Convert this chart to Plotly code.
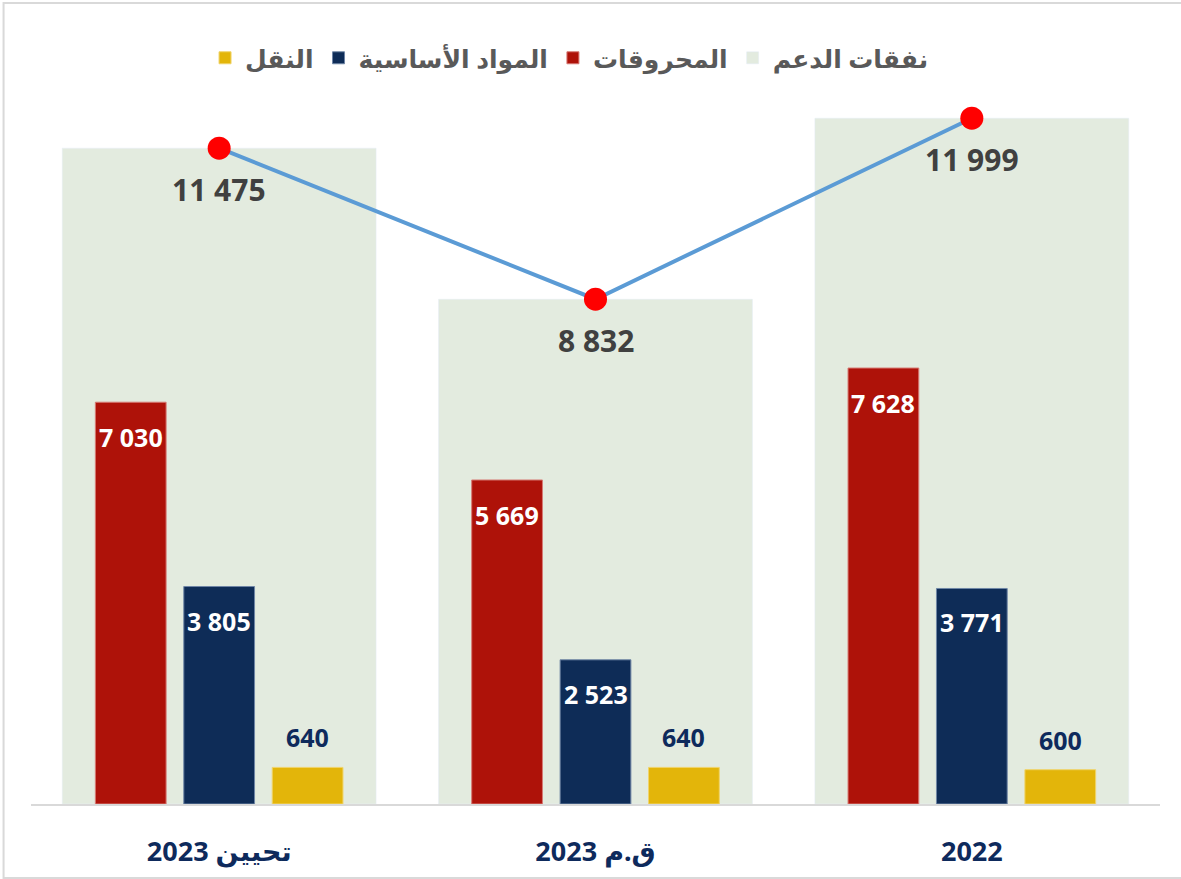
import plotly.graph_objects as go

categories = ["تحيين 2023", "ق.م 2023", "2022"]
total = [11475, 8832, 11999]
fuel = [7030, 5669, 7628]
basic = [3805, 2523, 3771]
transport = [640, 640, 600]

names = ["نفقات الدعم", "المحروقات", "المواد الأساسية", "النقل"]

C_BG = "#e3ebdf"
C_RED = "#ae1209"
C_NAVY = "#0e2c57"
C_YEL = "#e3b50a"
C_LINE = "#5b9bd5"
C_TXT = "#404040"
C_TICK = "#0e2a5c"
FONT = "Noto Sans, DejaVu Sans, sans-serif"

def fmt(v):
    return f"{v:,}".replace(",", " ")

BW = 0.188
STEP = 0.235
BGW = 0.834

fig = go.Figure()
fig.add_trace(go.Bar(x=categories, y=total, name=names[0], marker_color=C_BG,
                     width=BGW, offset=-BGW / 2, hoverinfo="skip"))
fig.add_trace(go.Bar(x=categories, y=fuel, name=names[1], marker_color=C_RED,
                     marker_line=dict(color="#d77a74", width=1),
                     width=BW, offset=-STEP - BW / 2))
fig.add_trace(go.Bar(x=categories, y=basic, name=names[2], marker_color=C_NAVY,
                     marker_line=dict(color="#6f86a6", width=1),
                     width=BW, offset=-BW / 2))
fig.add_trace(go.Bar(x=categories, y=transport, name=names[3], marker_color=C_YEL,
                     marker_line=dict(color="#f0d46a", width=1),
                     width=BW, offset=STEP - BW / 2))
fig.add_trace(go.Scatter(x=categories, y=total, mode="lines+markers", showlegend=False,
                         line=dict(color=C_LINE, width=4),
                         marker=dict(color="#ff0000", size=23)))

ann = []
for i in range(len(categories)):
    ann.append(dict(x=i, y=total[i], text=fmt(total[i]), showarrow=False,
                    yanchor="middle", yshift=-41,
                    font=dict(family=FONT, size=30, color=C_TXT, weight="bold")))
    ann.append(dict(x=i - STEP, y=fuel[i], text=fmt(fuel[i]), showarrow=False,
                    yanchor="middle", yshift=-35,
                    font=dict(family=FONT, size=25, color="white", weight="bold")))
    ann.append(dict(x=i, y=basic[i], text=fmt(basic[i]), showarrow=False,
                    yanchor="middle", yshift=-34,
                    font=dict(family=FONT, size=25, color="white", weight="bold")))
    ann.append(dict(x=i + STEP, y=transport[i], text=fmt(transport[i]), showarrow=False,
                    yanchor="middle", yshift=30,
                    font=dict(family=FONT, size=25, color=C_TICK, weight="bold")))

fig.update_layout(
    width=1181, height=879,
    margin=dict(l=31, r=21, t=61, b=75, autoexpand=False),
    barmode="overlay",
    plot_bgcolor="white", paper_bgcolor="white",
    font=dict(family=FONT),
    showlegend=True,
    legend=dict(orientation="h", x=0.477, xanchor="center", y=1.004, yanchor="middle",
                traceorder="reversed", font=dict(family=FONT, size=25, color="#595959", weight="bold"),
                itemclick=False, itemdoubleclick=False),
    annotations=ann,
    xaxis=dict(showgrid=False, showline=True, linecolor="#d9d9d9", linewidth=2,
               ticks="", ticklabelstandoff=23, automargin=False,
               tickfont=dict(family=FONT, size=27, color=C_TICK, weight="bold"),
               range=[-0.5, 2.5]),
    yaxis=dict(range=[0, 13000], showgrid=False, showticklabels=False, zeroline=False,
               showline=False, ticks="", automargin=False),
    shapes=[dict(type="rect", xref="paper", yref="paper",
                 x0=-0.0243, x1=1.03, y0=-0.0996, y1=1.078,
                 line=dict(color="#d9d9d9", width=2), fillcolor="rgba(0,0,0,0)", layer="below")],
)

fig.write_html("out.html", config={"displayModeBar": False},
               post_script="document.body.style.margin='0';")
